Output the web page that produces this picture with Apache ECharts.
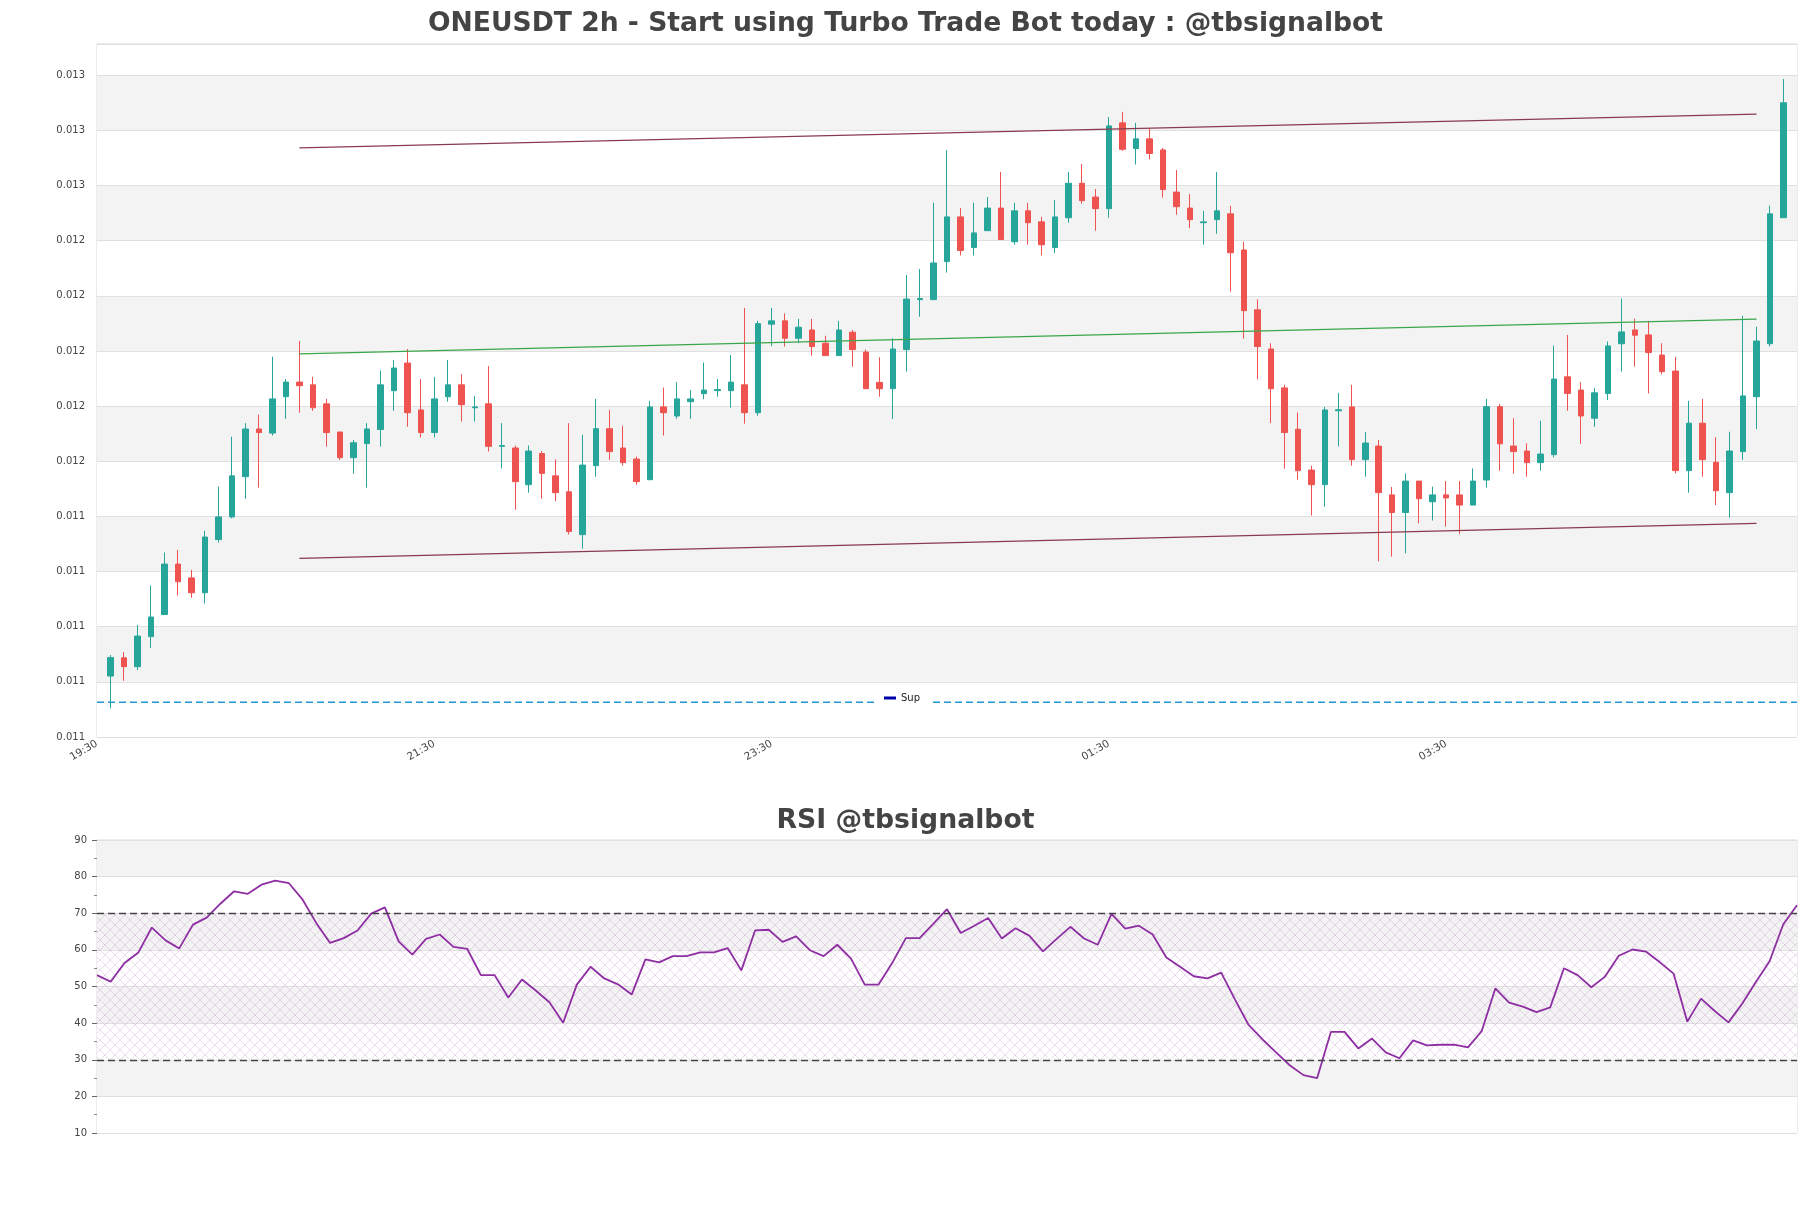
<!DOCTYPE html>
<html><head><meta charset="utf-8">
<script src="https://cdn.jsdelivr.net/npm/echarts@6/dist/echarts.min.js"></script>
<style>html,body{margin:0;padding:0;background:#fff}#c{width:1811px;height:1208px}</style>
</head><body><div id="c"></div>
<script>
const tickLabels = ['19:30','21:30','23:30','01:30','03:30'];
const tickPositions = [0,25,50,75,100];
const openV = [0.010821,0.010887,0.010855,0.010964,0.011044,0.011227,0.011177,0.011123,0.011316,0.011398,
0.011544,0.011717,0.011702,0.011834,0.011887,0.011877,0.011808,0.011706,0.011613,0.011664,
0.011715,0.011856,0.011956,0.011786,0.011704,0.011834,0.011877,0.011794,0.011808,0.011654,
0.011648,0.011515,0.011628,0.011547,0.011489,0.011334,0.011584,0.011718,0.011648,0.011608,
0.011533,0.011797,0.011764,0.011816,0.011845,0.011856,0.011856,0.011877,0.011776,0.012097,
0.012109,0.012046,0.012076,0.012028,0.011983,0.012068,0.011996,0.011886,0.011863,0.012005,
0.012186,0.012186,0.012324,0.012486,0.012375,0.012436,0.012518,0.012396,0.012508,0.012468,
0.012375,0.012483,0.012608,0.012558,0.012516,0.012827,0.012734,0.012769,0.012729,0.012576,
0.012518,0.012465,0.012476,0.012497,0.012366,0.012149,0.012007,0.011866,0.011716,0.011568,
0.011515,0.011783,0.011797,0.011606,0.011655,0.011478,0.011414,0.011528,0.011453,0.011478,
0.011478,0.011441,0.011532,0.011798,0.011655,0.011637,0.011595,0.011624,0.011906,0.011858,
0.011756,0.011846,0.012026,0.012076,0.012058,0.011985,0.011927,0.011566,0.011738,0.011596,
0.011486,0.011635,0.011834,0.012026,0.012483];
const closeV = [0.010888,0.010855,0.010966,0.011035,0.011227,0.011163,0.011123,0.011325,0.011398,0.011547,
0.011717,0.011704,0.011826,0.011887,0.011874,0.011794,0.011704,0.011613,0.011667,0.011717,
0.011877,0.011938,0.011776,0.011704,0.011826,0.011877,0.011805,0.011797,0.011654,0.011657,
0.011526,0.011637,0.011556,0.011486,0.011345,0.011586,0.011718,0.011635,0.011595,0.011526,
0.011797,0.011776,0.011826,0.011826,0.011858,0.011860,0.011887,0.011776,0.012099,0.012109,
0.012046,0.012086,0.012016,0.011983,0.012076,0.012005,0.011863,0.011863,0.012007,0.012188,
0.012190,0.012319,0.012486,0.012364,0.012428,0.012518,0.012404,0.012508,0.012465,0.012385,
0.012486,0.012608,0.012545,0.012516,0.012816,0.012731,0.012769,0.012716,0.012585,0.012523,
0.012476,0.012468,0.012508,0.012356,0.012146,0.012016,0.011863,0.011704,0.011566,0.011515,
0.011786,0.011787,0.011606,0.011666,0.011486,0.011414,0.011528,0.011464,0.011478,0.011467,
0.011441,0.011528,0.011798,0.011663,0.011635,0.011595,0.011626,0.011898,0.011846,0.011764,
0.011848,0.012018,0.012069,0.012057,0.011994,0.011925,0.011566,0.011738,0.011606,0.011493,
0.011637,0.011837,0.012036,0.012497,0.012900];
const lowV = [0.010704,0.010804,0.010843,0.010923,0.011043,0.011113,0.011105,0.011084,0.011305,0.011393,
0.011464,0.011504,0.011693,0.011754,0.011776,0.011783,0.011653,0.011605,0.011555,0.011504,
0.011653,0.011783,0.011725,0.011686,0.011686,0.011816,0.011744,0.011744,0.011635,0.011574,
0.011424,0.011486,0.011464,0.011455,0.011334,0.011283,0.011544,0.011605,0.011584,0.011515,
0.011533,0.011693,0.011754,0.011754,0.011825,0.011834,0.011794,0.011736,0.011765,0.012017,
0.012016,0.012028,0.011983,0.011983,0.011983,0.011943,0.011863,0.011834,0.011753,0.011925,
0.012124,0.012186,0.012284,0.012346,0.012346,0.012436,0.012404,0.012385,0.012385,0.012346,
0.012355,0.012465,0.012534,0.012436,0.012483,0.012726,0.012676,0.012694,0.012556,0.012494,
0.012445,0.012385,0.012425,0.012215,0.012045,0.011897,0.011738,0.011573,0.011533,0.011403,
0.011435,0.011654,0.011584,0.011544,0.011237,0.011254,0.011266,0.011375,0.011385,0.011363,
0.011336,0.011441,0.011504,0.011566,0.011555,0.011544,0.011566,0.011614,0.011783,0.011663,
0.011725,0.011822,0.011925,0.011943,0.011846,0.011915,0.011556,0.011486,0.011544,0.011441,
0.011395,0.011605,0.011716,0.012016,0.012483];
const highV = [0.010897,0.010908,0.011006,0.011149,0.011269,0.011278,0.011206,0.011348,0.011508,0.011689,
0.011738,0.011769,0.011979,0.011898,0.012036,0.011906,0.011826,0.011706,0.011677,0.011738,
0.011929,0.011967,0.012007,0.011898,0.011906,0.011967,0.011916,0.011837,0.011945,0.011738,
0.011657,0.011657,0.011637,0.011607,0.011738,0.011696,0.011826,0.011786,0.011729,0.011617,
0.011819,0.011867,0.011887,0.011858,0.011958,0.011898,0.011985,0.012156,0.012109,0.012156,
0.012136,0.012116,0.012116,0.012055,0.012109,0.012076,0.012005,0.011977,0.012046,0.012275,
0.012297,0.012537,0.012728,0.012518,0.012537,0.012558,0.012649,0.012537,0.012537,0.012486,
0.012547,0.012649,0.012678,0.012587,0.012848,0.012867,0.012827,0.012807,0.012736,0.012656,
0.012569,0.012508,0.012649,0.012526,0.012396,0.012187,0.012028,0.011877,0.011777,0.011584,
0.011797,0.011848,0.011877,0.011706,0.011677,0.011507,0.011556,0.011528,0.011508,0.011528,
0.011528,0.011574,0.011826,0.011808,0.011756,0.011665,0.011747,0.012019,0.012058,0.011887,
0.011866,0.012034,0.012190,0.012117,0.012109,0.012028,0.011978,0.011819,0.011826,0.011687,
0.011707,0.012127,0.012088,0.012527,0.012986];
const rsiV = [53.1,51.3,56.4,59.2,66.1,62.6,60.4,66.9,68.8,72.6,
76.0,75.3,77.8,78.9,78.2,73.7,67.3,61.9,63.2,65.3,
69.9,71.6,62.3,58.7,63.0,64.2,60.8,60.3,53.1,53.1,
47.0,51.9,48.9,45.7,40.1,50.5,55.4,52.2,50.6,47.8,
57.4,56.6,58.3,58.3,59.3,59.3,60.5,54.4,65.3,65.5,
62.2,63.7,59.9,58.3,61.4,57.6,50.5,50.5,56.4,63.2,
63.2,67.1,71.1,64.6,66.6,68.7,63.1,65.9,63.9,59.6,
63.0,66.3,63.1,61.4,69.8,65.8,66.6,64.2,57.9,55.4,
52.8,52.2,53.8,46.5,39.5,35.6,32.0,28.5,25.8,25.0,
37.6,37.6,33.1,35.8,32.0,30.4,35.3,33.9,34.1,34.1,
33.4,37.8,49.5,45.6,44.5,43.0,44.3,55.0,53.1,49.8,
52.7,58.4,60.1,59.5,56.6,53.5,40.4,46.7,43.3,40.2,
45.3,51.2,56.9,67.0,72.2];
const supLevel = 0.010726;
const upperLine = [[15,0.012736],[123,0.012859]];
const midLine = [[15,0.011989],[123,0.012115]];
const lowerLine = [[15,0.011248],[123,0.011375]];
const rsiLevels = [70,30];
const rsiZone = [30,70];

function hatch(){
  const c=document.createElement('canvas'); c.width=10; c.height=10;
  const g=c.getContext('2d');
  g.strokeStyle='rgba(185,135,195,0.38)'; g.lineWidth=0.8;
  g.beginPath(); g.moveTo(0,0); g.lineTo(10,10); g.moveTo(10,0); g.lineTo(0,10); g.stroke();
  return c;
}
const font = 'DejaVu Sans';
const chart = echarts.init(document.getElementById('c'));
const candles = openV.map((o,i)=>[i+1,o,closeV[i],lowV[i],highV[i]]);
const option = {
  animation:false,
  backgroundColor:'#fff',
  textStyle:{fontFamily:font},
  title:[
    {text:'ONEUSDT 2h - Start using Turbo Trade Bot today : @tbsignalbot', left:'center', top:6,
     textStyle:{fontSize:26.6,fontWeight:'bold',color:'#444',fontFamily:font}},
    {text:'RSI @tbsignalbot', left:'center', top:803,
     textStyle:{fontSize:26.7,fontWeight:'bold',color:'#444',fontFamily:font}}
  ],
  legend:{data:[{name:'Sup',icon:'rect',itemStyle:{color:'#0000a8'}}], left:878, top:689,
    itemWidth:12, itemHeight:3, itemGap:6, backgroundColor:'#fff', padding:[4,10,4,6],
    selectedMode:false, textStyle:{fontSize:10,color:'#222',fontFamily:font}},
  grid:[
    {left:97, right:14, top:44, height:693, show:true, borderColor:'#d9d9d9', borderWidth:1},
    {left:97, right:14, top:840, height:293, show:true, borderColor:'#d9d9d9', borderWidth:1}
  ],
  xAxis:[
    {type:'value', gridIndex:0, min:0, max:126, interval:25, splitLine:{show:false},
     axisLine:{show:false}, axisTick:{show:false},
     axisLabel:{rotate:30, fontSize:10.5, color:'#444', margin:6, fontFamily:font,
       formatter:v=>{const i=tickPositions.indexOf(v); return i>=0?tickLabels[i]:'';}}},
    {type:'value', gridIndex:1, min:0, max:rsiV.length-1, show:false, splitLine:{show:false}}
  ],
  yAxis:[
    {type:'value', gridIndex:0, min:0.0106, max:0.013113, interval:0.0002,
     axisLine:{show:false}, axisTick:{show:false},
     axisLabel:{fontSize:10, color:'#444', margin:12, showMaxLabel:false, fontFamily:font,
       formatter:v=>v.toFixed(3)},
     splitLine:{lineStyle:{color:'#e0e0e0'}},
     splitArea:{show:true, areaStyle:{color:['#ffffff','#f3f3f3']}}},
    {type:'value', gridIndex:1, min:10, max:90, interval:10,
     axisLine:{show:false},
     axisTick:{show:true, length:5, lineStyle:{color:'#666'}},
     minorTick:{show:true, splitNumber:2, length:3, lineStyle:{color:'#888'}},
     axisLabel:{fontSize:10, color:'#444', margin:10, fontFamily:font},
     splitLine:{lineStyle:{color:'#e0e0e0'}},
     splitArea:{show:true, areaStyle:{color:['#ffffff','#f3f3f3']}}}
  ],
  series:[
    {type:'candlestick', name:'price', xAxisIndex:0, yAxisIndex:0, barWidth:6, data:candles,
     encode:{x:0, y:[1,2,3,4]},
     itemStyle:{color:'#26a69a', color0:'#ef5350', borderColor:'#26a69a', borderColor0:'#ef5350', borderWidth:1}},
    {type:'line', name:'upper', xAxisIndex:0, yAxisIndex:0, data:upperLine, showSymbol:false,
     lineStyle:{color:'#8a3a4e', width:1.2}},
    {type:'line', name:'mid', xAxisIndex:0, yAxisIndex:0, data:midLine, showSymbol:false,
     lineStyle:{color:'#3aa64a', width:1.2}},
    {type:'line', name:'lower', xAxisIndex:0, yAxisIndex:0, data:lowerLine, showSymbol:false,
     lineStyle:{color:'#8a3a4e', width:1.2}},
    {type:'line', name:'Sup', xAxisIndex:0, yAxisIndex:0, data:[[0,supLevel],[126,supLevel]], showSymbol:false,
     itemStyle:{color:'#0000a8'}, lineStyle:{color:'#2196d3', width:1.3, type:[7,4]}},
    {type:'line', name:'RSI', xAxisIndex:1, yAxisIndex:1, data:rsiV.map((v,i)=>[i,v]), showSymbol:false,
     lineStyle:{color:'#8e2ea3', width:1.8}, itemStyle:{color:'#8e2ea3'},
     markLine:{silent:true, symbol:'none', label:{show:false},
       lineStyle:{color:'#444', type:[7,4], width:1.3}, data:rsiLevels.map(v=>({yAxis:v}))},
     markArea:{silent:true, itemStyle:{color:{image:hatch(), repeat:'repeat'}},
       data:[[{yAxis:rsiZone[0]},{yAxis:rsiZone[1]}]]}}
  ]
};
chart.setOption(option);
</script></body></html>
